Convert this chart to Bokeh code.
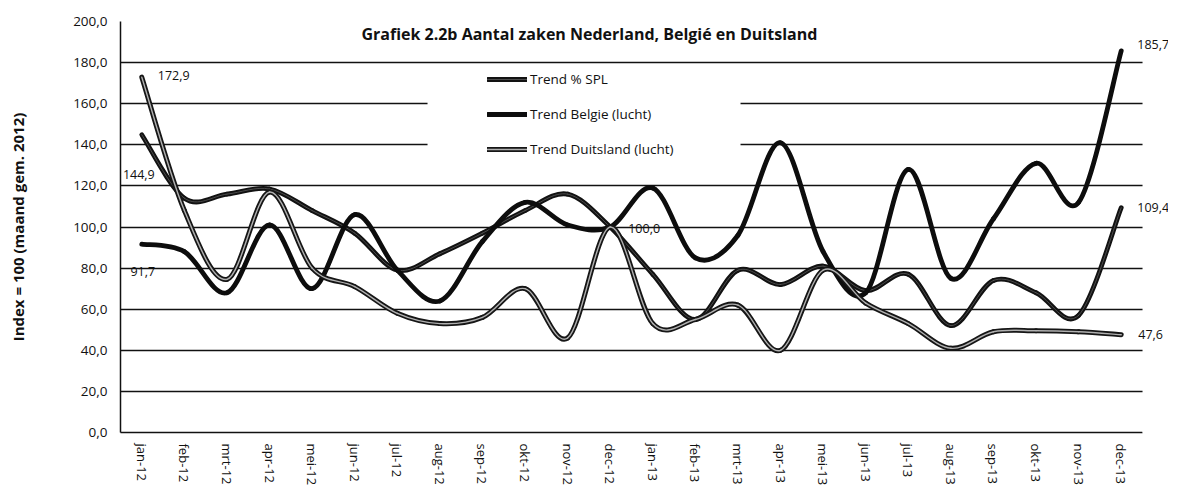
import numpy as np
from bokeh.plotting import figure
from bokeh.models import (Range1d, FixedTicker, Label, BoxAnnotation, Legend,
                          LegendItem, ColumnDataSource)
from bokeh.embed import file_html
from bokeh.resources import INLINE

months = ["jan-12", "feb-12", "mrt-12", "apr-12", "mei-12", "jun-12", "jul-12",
          "aug-12", "sep-12", "okt-12", "nov-12", "dec-12", "jan-13", "feb-13",
          "mrt-13", "apr-13", "mei-13", "jun-13", "jul-13", "aug-13", "sep-13",
          "okt-13", "nov-13", "dec-13"]

trend_spl = [144.9, 114, 116, 118.5, 108, 97, 79, 87, 97, 108, 116, 100,
             77, 55, 79, 72, 81, 69, 77, 52, 74, 68, 57, 109.4]
trend_belgie = [91.7, 88, 68, 101, 70, 106, 79, 64, 93, 112, 101, 100,
                119, 85, 96, 141, 88, 68, 128, 75, 104, 131, 112, 185.7]
trend_duitsland = [172.9, 108, 74.5, 117, 80, 71, 58, 53, 56, 70, 46, 100,
                   53, 55, 62, 40, 79, 63, 53, 41, 49, 49.5, 49, 47.6]

y_ticks = list(range(0, 201, 20))

title_text = "Grafiek 2.2b Aantal zaken Nederland, Belgié en Duitsland"
y_label = "Index = 100 (maand gem. 2012)"
FONT = "Open Sans"
INK = "#111111"


def fmt(v):
    return f"{v:.1f}".replace(".", ",")


def smooth_source(values):
    # Excel-like smoothed line: cubic Bezier segments through the data points
    y = np.asarray(values, dtype=float)
    n = len(y)
    x = np.arange(n, dtype=float)
    i = np.arange(n - 1)
    im1 = np.clip(i - 1, 0, n - 1)
    ip2 = np.clip(i + 2, 0, n - 1)
    cx0 = x[i] + (x[i + 1] - x[im1]) / 6.0
    cy0 = y[i] + (y[i + 1] - y[im1]) / 6.0
    cx1 = x[i + 1] - (x[ip2] - x[i]) / 6.0
    cy1 = y[i + 1] - (y[ip2] - y[i]) / 6.0
    return ColumnDataSource(dict(x0=x[i], y0=y[i], x1=x[i + 1], y1=y[i + 1],
                                 cx0=cx0, cy0=cy0, cx1=cx1, cy1=cy1))


n_cat = len(months)
p = figure(width=1168, height=488, output_backend="svg", toolbar_location=None,
           x_range=Range1d(-0.5, n_cat - 0.5 + 0.61), y_range=Range1d(0, 200),
           min_border_left=120, min_border_right=0, min_border_top=21,
           min_border_bottom=51)
p.outline_line_color = None
p.background_fill_color = "white"
p.border_fill_color = "white"

# grid
p.xgrid.visible = False
p.ygrid.ticker = FixedTicker(ticks=y_ticks)
p.ygrid.grid_line_color = INK
p.ygrid.grid_line_width = 1.5

# y axis
p.yaxis.ticker = FixedTicker(ticks=y_ticks)
p.yaxis.major_label_overrides = {t: fmt(t) for t in y_ticks}
p.yaxis.major_tick_line_color = None
p.yaxis.minor_tick_line_color = None
p.yaxis.axis_line_color = INK
p.yaxis.axis_line_width = 1.5
p.yaxis.major_label_standoff = 7
p.yaxis.major_label_text_font = FONT
p.yaxis.major_label_text_font_size = "13.5px"
p.yaxis.major_label_text_color = INK
p.yaxis.axis_label = y_label
p.yaxis.axis_label_text_font = FONT
p.yaxis.axis_label_text_font_style = "bold"
p.yaxis.axis_label_text_font_size = "15px"
p.yaxis.axis_label_text_color = INK
p.yaxis.axis_label_standoff = 42

# x axis
p.xaxis.ticker = FixedTicker(ticks=list(range(n_cat)))
p.xaxis.bounds = (-0.5, n_cat - 0.5)
p.xaxis.major_label_overrides = {i: m for i, m in enumerate(months)}
p.xaxis.major_label_orientation = "vertical"
p.xaxis.major_tick_line_color = None
p.xaxis.minor_tick_line_color = None
p.xaxis.axis_line_color = INK
p.xaxis.axis_line_width = 1.5
p.xaxis.major_label_standoff = 5
p.xaxis.major_label_text_font = FONT
p.xaxis.major_label_text_font_size = "13px"
p.xaxis.major_label_text_color = INK

# series
src_spl = smooth_source(trend_spl)
src_bel = smooth_source(trend_belgie)
src_dui = smooth_source(trend_duitsland)

bz = dict(x0="x0", y0="y0", x1="x1", y1="y1", cx0="cx0", cy0="cy0",
          cx1="cx1", cy1="cy1")

r_spl = p.bezier(source=src_spl, line_color="#121212", line_width=4.8,
                 line_cap="round", **bz)
r_spl_c = p.bezier(source=src_spl, line_color="#5a5a5a", line_width=0.8,
                   line_cap="round", **bz)
r_bel = p.bezier(source=src_bel, line_color="#0d0d0d", line_width=4.8,
                 line_cap="round", **bz)
r_dui = p.bezier(source=src_dui, line_color="#161616", line_width=5,
                 line_cap="round", **bz)
r_dui_c = p.bezier(source=src_dui, line_color="#b0b0b0", line_width=1.4,
                   line_cap="round", **bz)

# white areas: behind chart title, behind legend, and right of the plot area
white = dict(fill_color="white", fill_alpha=1.0, line_color=None)
p.add_layout(BoxAnnotation(left=4.97, right=15.99, bottom=184, top=210, **white))
p.add_layout(BoxAnnotation(left=6.71, right=14.06, bottom=124, top=177, **white))
p.add_layout(BoxAnnotation(left=n_cat - 0.5, right=n_cat + 2, bottom=-10,
                           top=210, **white))

p.add_layout(Label(x=10.51, y=193.8, text=title_text,
                   text_font=FONT, text_font_style="bold",
                   text_font_size="16px", text_align="center",
                   text_baseline="middle", text_color=INK))

legend = Legend(items=[
    LegendItem(label="Trend % SPL", renderers=[r_spl, r_spl_c]),
    LegendItem(label="Trend Belgie (lucht)", renderers=[r_bel]),
    LegendItem(label="Trend Duitsland (lucht)", renderers=[r_dui, r_dui_c]),
], location=(367, 273), orientation="vertical", glyph_width=40,
    glyph_height=20, label_height=20, spacing=15, padding=0, margin=0,
    label_standoff=3, background_fill_alpha=0, border_line_color=None,
    label_text_font=FONT, label_text_font_size="13.5px",
    label_text_color=INK)
p.add_layout(legend, "center")

# data labels
last = n_cat - 1
labels = [
    (0, trend_duitsland[0], 16, 2, "left"),
    (0, trend_spl[0], -3, -40, "center"),
    (0, trend_belgie[0], 1, -27, "center"),
    (11, trend_spl[11], 18, -1, "left"),
    (last, trend_belgie[last], 16, 6, "left"),
    (last, trend_spl[last], 16, 0, "left"),
    (last, trend_duitsland[last], 17, 0, "left"),
]
for xi, yv, dx, dy, al in labels:
    p.add_layout(Label(x=xi, y=yv, x_offset=dx, y_offset=dy, text=fmt(yv),
                       text_font=FONT, text_font_size="12.5px", text_align=al,
                       text_baseline="middle", text_color=INK))

open("out.html", "w").write(file_html(p, INLINE))
